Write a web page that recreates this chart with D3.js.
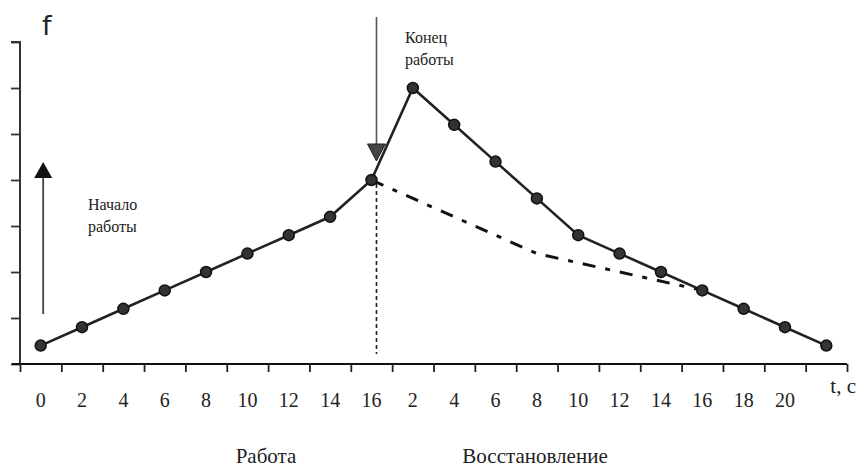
<!DOCTYPE html>
<html><head><meta charset="utf-8">
<script src="https://cdn.jsdelivr.net/npm/d3@7"></script>
<style>
body{margin:0;background:#fff;}
</style></head>
<body><svg id="c" width="859" height="470"></svg>
<script>
// categories (band labels along t axis)
const categories = ["0","2","4","6","8","10","12","14","16","2","4","6","8","10","12","14","16","18","20",""];
// f values, solid curve with markers
const fValues = [0.4,0.8,1.2,1.6,2.0,2.4,2.8,3.2,4.0,6.0,5.2,4.4,3.6,2.8,2.4,2.0,1.6,1.2,0.8,0.4];
// dash-dot curve (passive recovery), index -> value
const dashIdx = [8,12,16];
const dashValues = [4.0,2.4,1.6];
const yTicks = [0,1,2,3,4,5,6,7];

const SERIF = "Liberation Serif, DejaVu Serif, serif";
const svg = d3.select("#c");
const L = 20, R = 847, T = 42, B = 364;
const idx = d3.range(categories.length);
const xb = d3.scaleBand().domain(idx).range([L,R]).padding(0);
const xl = d3.scaleLinear().domain([0,categories.length]).range([L,R]);
const y = d3.scaleLinear().domain([0,7]).range([B,T]);
const cx = i => xb(i) + xb.bandwidth()/2;

// y axis
const ya = svg.append("g").attr("transform",`translate(${L},0)`)
  .call(d3.axisLeft(y).tickValues(yTicks).tickSize(9).tickFormat(""));
ya.select(".domain").attr("d",`M-9,${T}H0V${B}`).attr("stroke","#333").attr("stroke-width",2);
ya.selectAll(".tick line").attr("stroke","#333").attr("stroke-width",1.8);

// x axis tick marks at band boundaries
const xa = svg.append("g").attr("transform",`translate(0,${B})`)
  .call(d3.axisBottom(xl).tickValues(d3.range(categories.length+1)).tickSize(8).tickFormat(""));
xa.select(".domain").attr("d",`M12,0H${R}`).attr("stroke","#111").attr("stroke-width",2.2);
xa.selectAll(".tick line").attr("stroke","#222").attr("stroke-width",1.8);

// x labels at band centers
const xlab = svg.append("g").attr("transform",`translate(0,${B})`)
  .call(d3.axisBottom(xb).tickSize(0).tickPadding(0).tickFormat(i=>categories[i]));
xlab.select(".domain").remove();
xlab.attr("font-family",SERIF);
xlab.selectAll(".tick text").attr("y",43).attr("dy",0).attr("font-size","20px")
  .attr("font-family",SERIF).attr("fill","#222");

const txt = (x,yy,s,fs,anchor)=>svg.append("text").attr("x",x).attr("y",yy)
  .attr("font-family",SERIF).attr("font-size",fs).attr("fill","#222")
  .attr("text-anchor",anchor||"start").text(s);

txt(856,393,"t, c","21px","end");
svg.append("text").attr("x",42).attr("y",35).attr("font-family","DejaVu Sans, sans-serif")
  .attr("font-size","27px").attr("fill","#222").text("f");

// dashed vertical at end of work
svg.append("line").attr("x1",cx(8)+5).attr("x2",cx(8)+5).attr("y1",y(fValues[8])+4).attr("y2",B-10)
  .attr("stroke","#222").attr("stroke-width",1.6).attr("stroke-dasharray","4,3");

// dash-dot line
const dl = d3.line().x((d,i)=>cx(dashIdx[i])).y(d=>y(d));
svg.append("path").attr("d",dl(dashValues)).attr("fill","none").attr("stroke","#111")
  .attr("stroke-width",3).attr("stroke-dasharray","13,10,5,10");

// main line
const ml = d3.line().x((d,i)=>cx(i)).y(d=>y(d));
svg.append("path").attr("d",ml(fValues)).attr("fill","none").attr("stroke","#222").attr("stroke-width",2.6);
svg.selectAll("circle.p").data(fValues).join("circle").attr("class","p")
  .attr("cx",(d,i)=>cx(i)).attr("cy",d=>y(d)).attr("r",5.5)
  .attr("fill","#333").attr("stroke","#111").attr("stroke-width",1.5);

// start arrow (up)
const sx = cx(0)+2.5;
svg.append("line").attr("x1",sx).attr("x2",sx).attr("y1",314).attr("y2",176).attr("stroke","#444").attr("stroke-width",1.8);
svg.append("path").attr("d",`M${sx},162L${sx-9},178L${sx+9},178Z`).attr("fill","#111");
// end arrow (down)
const ex = cx(8)+5;
svg.append("line").attr("x1",ex).attr("x2",ex).attr("y1",17).attr("y2",146).attr("stroke","#555").attr("stroke-width",1.6);
svg.append("path").attr("d",`M${ex},161L${ex-9},144L${ex+9},144Z`).attr("fill","#444").attr("stroke","#222").attr("stroke-width",1);

// annotations
txt(88,210,"Начало","16px"); txt(88,232,"работы","16px");
txt(405,43,"Конец","16px"); txt(405,65,"работы","16px");

txt(266,463,"Работа","21px","middle");
txt(535,463,"Восстановление","21px","middle");
</script></body></html>
